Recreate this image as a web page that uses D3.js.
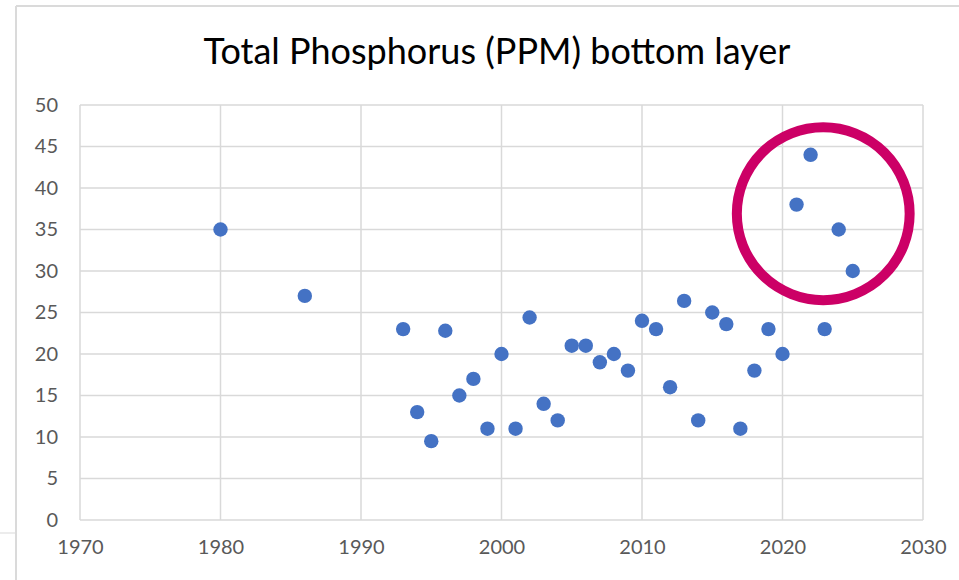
<!DOCTYPE html>
<html lang="en">
<head>
    <meta charset="UTF-8">
    <title>Total Phosphorus (PPM) bottom layer</title>
    <script src="https://cdn.jsdelivr.net/npm/d3@7"></script>
    <style>
        body { margin: 0; background: #fff; }
        svg { display: block; }
    </style>
</head>
<body>
    <div id="chart"></div>
    <script>
// sample years and total phosphorus (ppm)
const years = [1980, 1986, 1993, 1994, 1995, 1996, 1997, 1998, 1999, 2000,
               2001, 2002, 2003, 2004, 2005, 2006, 2007, 2008, 2009, 2010,
               2011, 2012, 2013, 2014, 2015, 2016, 2017, 2018, 2019, 2020,
               2021, 2022, 2023, 2024, 2025];
const phosphorus = [35, 27, 23, 13, 9.5, 22.8, 15, 17, 11, 20,
                    11, 24.4, 14, 12, 21, 21, 19, 20, 18, 24,
                    23, 16, 26.4, 12, 25, 23.6, 11, 18, 23, 20,
                    38, 44, 23, 35, 30];
const xTicks = [1970, 1980, 1990, 2000, 2010, 2020, 2030];
const yTicks = [0, 5, 10, 15, 20, 25, 30, 35, 40, 45, 50];
// the highlighted recent years (circled)
const highlight = { year: 2022.9, value: 36.9, radiusYears: 6.15 };

const width = 959, height = 580;
const margin = { top: 105, right: 36, bottom: 60, left: 80 };

const svg = d3.select("#chart").append("svg")
    .attr("width", width)
    .attr("height", height);

// screenshot frame lines
svg.append("line").attr("x1", 16).attr("x2", width).attr("y1", 6).attr("y2", 6)
    .attr("stroke", "#dadada").attr("stroke-width", 2);
svg.append("line").attr("x1", 16).attr("x2", 16).attr("y1", 6).attr("y2", height)
    .attr("stroke", "#dadada").attr("stroke-width", 2);
svg.append("line").attr("x1", 0).attr("x2", 15).attr("y1", 533).attr("y2", 533)
    .attr("stroke", "#e6e6e6").attr("stroke-width", 1.5);

const x = d3.scaleLinear()
    .domain([1970, 2030])
    .range([margin.left, width - margin.right]);
const y = d3.scaleLinear()
    .domain([0, 50])
    .range([height - margin.bottom, margin.top]);

const font = "Lato, 'Open Sans', sans-serif";

// gridlines
svg.append("g")
    .selectAll("line")
    .data(yTicks)
    .join("line")
    .attr("x1", x(1970)).attr("x2", x(2030))
    .attr("y1", d => y(d)).attr("y2", d => y(d))
    .attr("stroke", "#d9d9d9").attr("stroke-width", 1.5);
svg.append("g")
    .selectAll("line")
    .data(xTicks)
    .join("line")
    .attr("x1", d => x(d)).attr("x2", d => x(d))
    .attr("y1", y(0)).attr("y2", y(50))
    .attr("stroke", "#d9d9d9").attr("stroke-width", 1.5);

// axes (labels only, Excel style)
const yAxis = svg.append("g")
    .attr("transform", `translate(${margin.left},0)`)
    .call(d3.axisLeft(y).tickValues(yTicks).tickSize(0).tickPadding(22));
const xAxis = svg.append("g")
    .attr("transform", `translate(0,${y(0)})`)
    .call(d3.axisBottom(x).tickValues(xTicks).tickFormat(d3.format("d")).tickSize(0).tickPadding(20));
[xAxis, yAxis].forEach(g => {
    g.select(".domain").remove();
    g.selectAll("text")
        .attr("fill", "#595959")
        .style("font-family", font)
        .style("font-size", "20px");
});

// title
svg.append("text")
    .attr("x", 497)
    .attr("y", 64)
    .attr("text-anchor", "middle")
    .style("font-family", font)
    .style("font-size", "36px")
    .attr("fill", "#000")
    .text("Total Phosphorus (PPM) bottom layer");

// points
svg.append("g")
    .selectAll("circle")
    .data(years.map((yr, i) => ({ year: yr, value: phosphorus[i] })))
    .join("circle")
    .attr("cx", d => x(d.year))
    .attr("cy", d => y(d.value))
    .attr("r", 7.2)
    .attr("fill", "#4472c4");

// highlight ring
svg.append("circle")
    .attr("cx", x(highlight.year))
    .attr("cy", y(highlight.value))
    .attr("r", x(highlight.year + highlight.radiusYears) - x(highlight.year))
    .attr("fill", "none")
    .attr("stroke", "#cc0066")
    .attr("stroke-width", 10);
    </script>
</body>
</html>
